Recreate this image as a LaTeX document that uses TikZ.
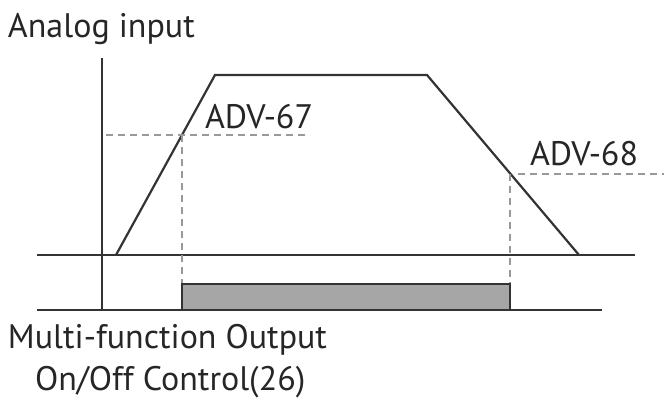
\documentclass[tikz,border=0pt]{standalone}
\usepackage{fontspec}
\setmainfont{PT Sans}
\begin{document}
\begin{tikzpicture}[x=1pt,y=-1pt,
  axisline/.style={line width=2.4pt,draw=black!80},
  curveline/.style={line width=2.2pt,draw=black!80},
  guide/.style={line width=1.5pt,draw=black!40,dash pattern=on 7pt off 5pt},
  lbl/.style={anchor=base west,inner sep=0pt,outer sep=0pt,text=black!85,font=\fontsize{34}{34}\selectfont},
  bar/.style={fill=black!35,draw=black!80,line width=2.2pt}]
\useasboundingbox (0,0) rectangle (664,400);
% axes
\coordinate (vtop) at (102,58);
\coordinate (vbot) at (102,310);
\coordinate (u1) at (37,255);
\coordinate (u2) at (635,255);
\coordinate (l1) at (37,310);
\coordinate (l2) at (602,310);
\draw[axisline] (vtop) -- (vbot);
\draw[axisline] (u1) -- (u2);
\draw[axisline] (l1) -- (l2);
% trapezoid
\coordinate (t0) at (116,255);
\coordinate (t1) at (215,75);
\coordinate (t2) at (427,75);
\coordinate (t3) at (579,255);
\draw[curveline,line join=miter] (t0) -- (t1) -- (t2) -- (t3);
% guides
\coordinate (g1a) at (106,135);
\coordinate (g1b) at (310,135);
\coordinate (g1c) at (182,135);
\coordinate (g1d) at (182,284);
\draw[guide] (g1a) -- (g1b);
\draw[guide] (g1c) -- (g1d);
\coordinate (g2a) at (518,174);
\coordinate (g2b) at (664,174);
\coordinate (g2c) at (510,174);
\coordinate (g2d) at (510,284);
\draw[guide] (g2a) -- (g2b);
\draw[guide] (g2c) -- (g2d);
% output bar
\coordinate (b1) at (182,310);
\coordinate (b2) at (510,284);
\draw[bar] (b1) rectangle (b2);
% labels
\node[lbl] (ain) at (8,37) {Analog input};
\node[lbl] (adv67) at (205,128) {ADV-67};
\node[lbl] (adv68) at (530,165) {ADV-68};
\node[lbl] (mfo) at (8,348) {Multi-function Output};
\node[lbl] (onoff) at (35,390) {On/Off Control(26)};
\end{tikzpicture}
\end{document}
